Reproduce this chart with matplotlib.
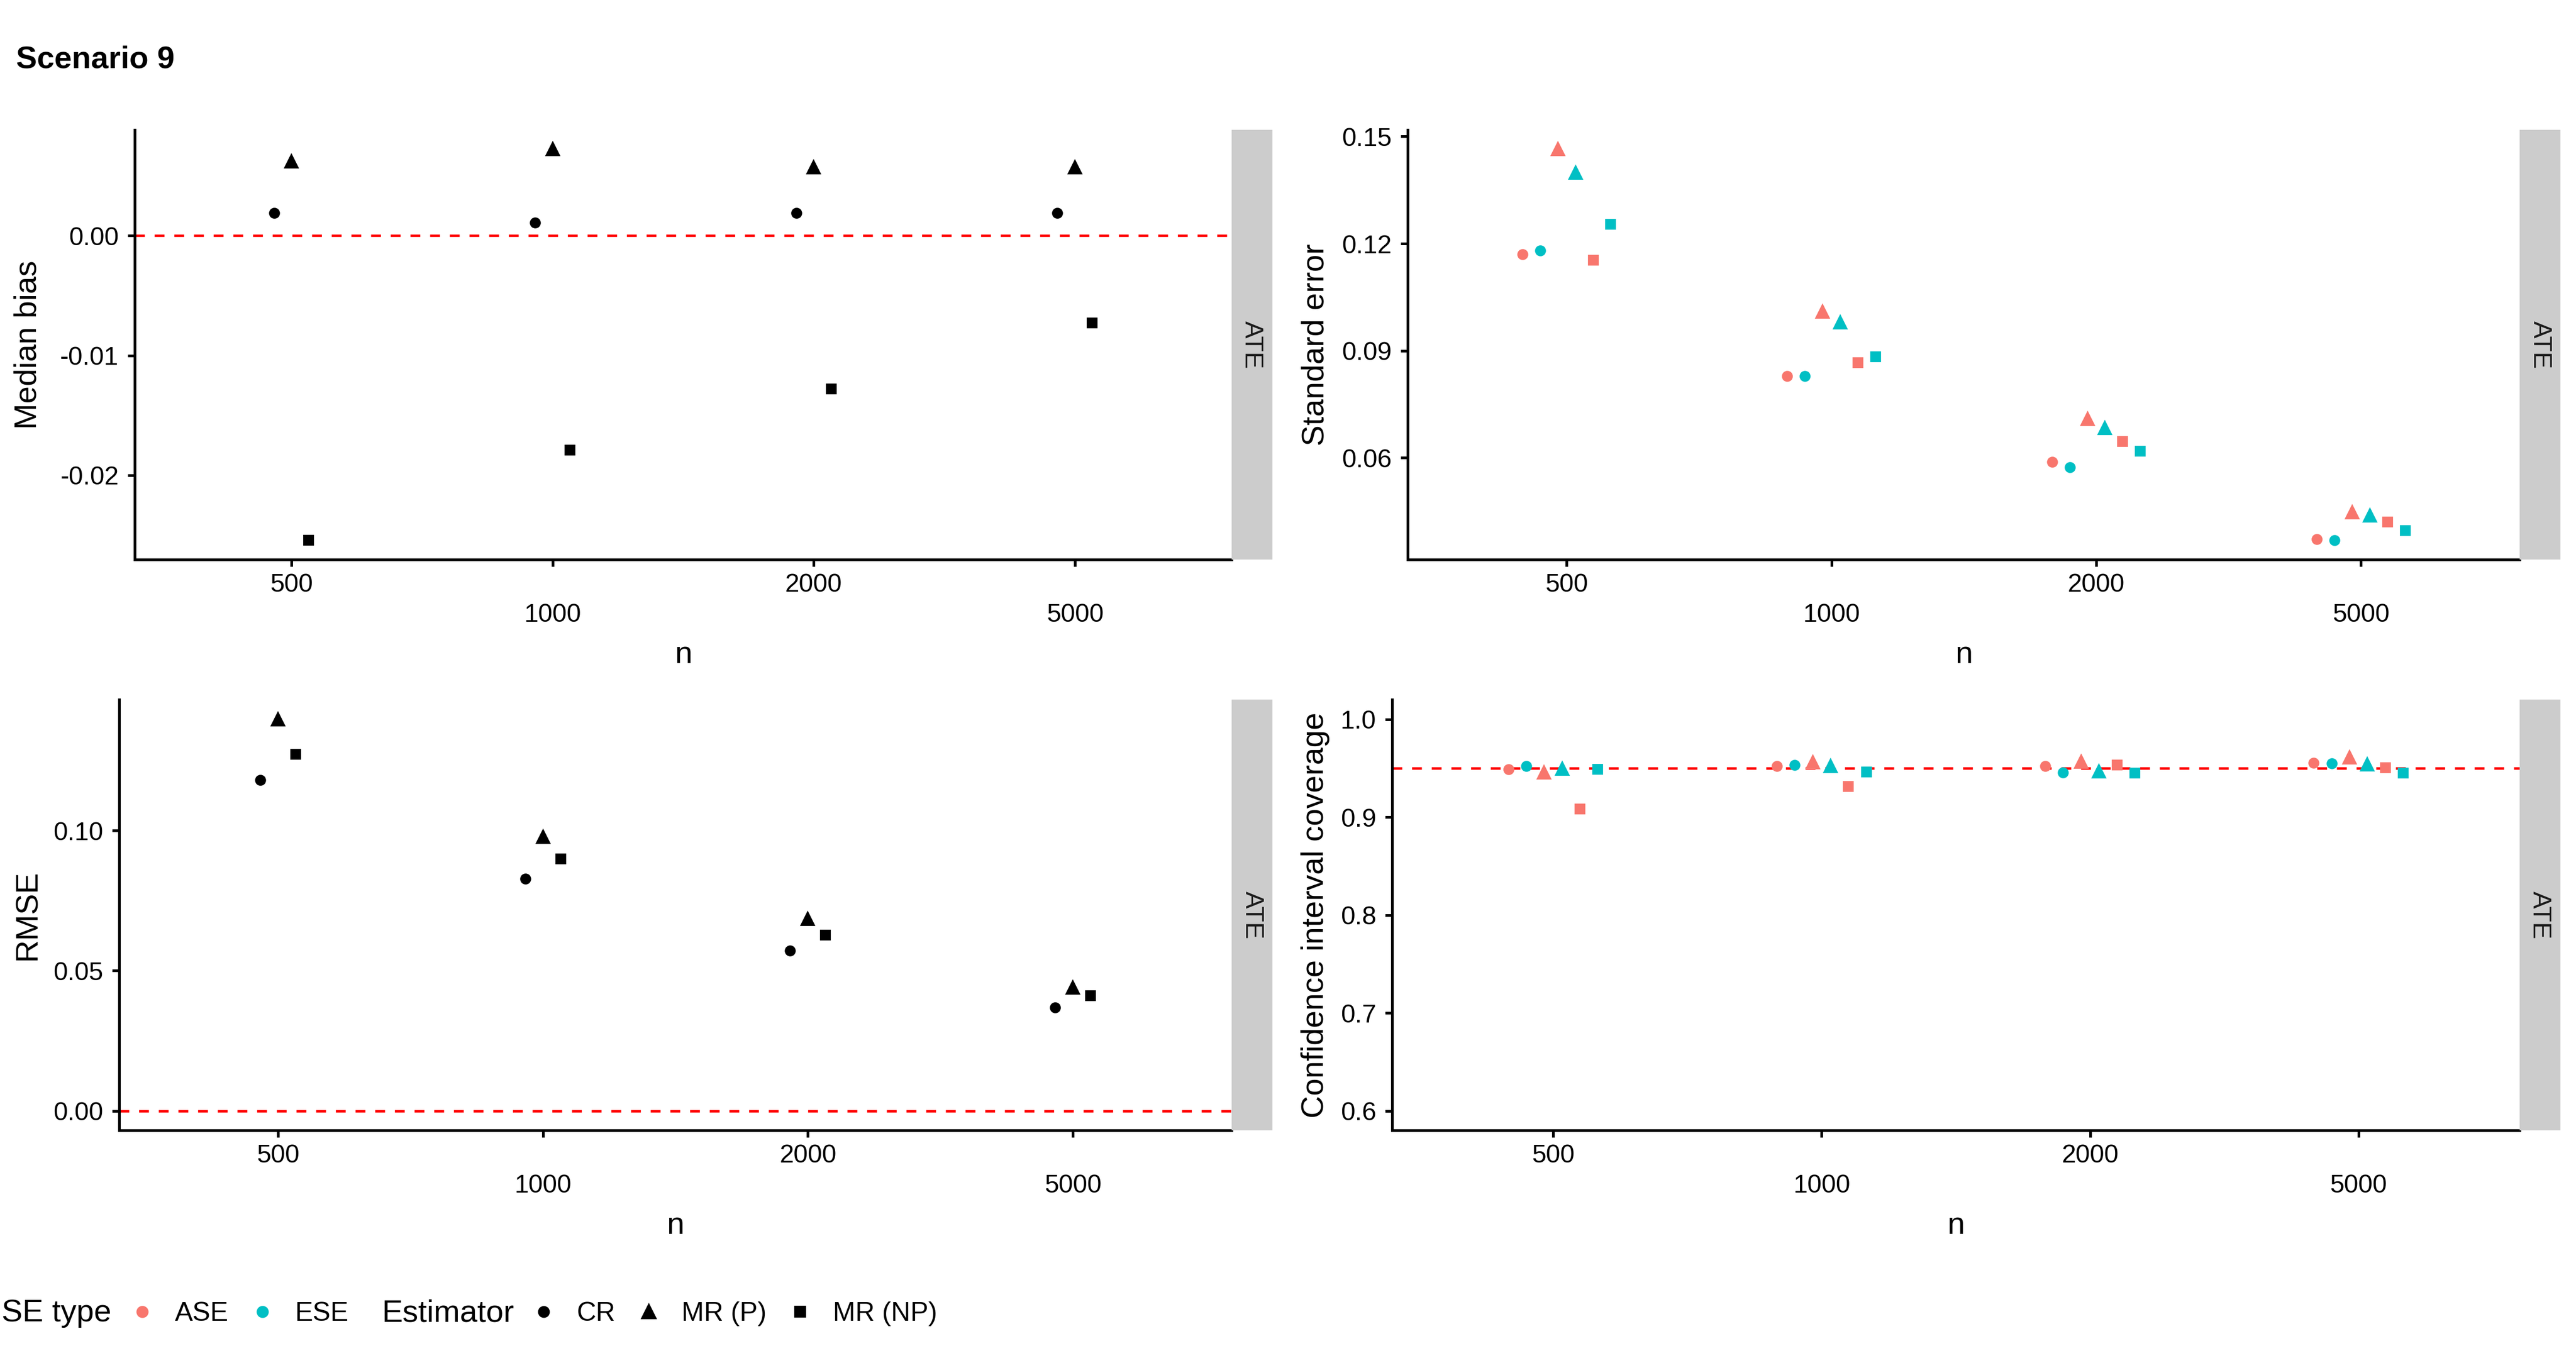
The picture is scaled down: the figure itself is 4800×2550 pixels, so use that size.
import matplotlib
matplotlib.use("Agg")
import matplotlib.pyplot as plt
from matplotlib.lines import Line2D
import numpy as np

plt.rcParams["font.family"] = ["Liberation Sans", "DejaVu Sans"]

# ---- data ----
n_labels = ["500", "1000", "2000", "5000"]
estimators = ["CR", "MR (P)", "MR (NP)"]
se_types = ["ASE", "ESE"]

bias_cr = [0.0019, 0.0011, 0.0019, 0.0019]
bias_mrp = [0.0062, 0.0072, 0.0057, 0.0057]
bias_mrnp = [-0.0254, -0.0179, -0.0128, -0.0073]

rmse_cr = [0.1181, 0.0828, 0.0572, 0.0368]
rmse_mrp = [0.1398, 0.0978, 0.0685, 0.0439]
rmse_mrnp = [0.1273, 0.0899, 0.0628, 0.0411]

se_ase_cr = [0.1170, 0.0829, 0.0588, 0.0373]
se_ese_cr = [0.1180, 0.0829, 0.0573, 0.0370]
se_ase_mrp = [0.1464, 0.1009, 0.0709, 0.0447]
se_ese_mrp = [0.1399, 0.0979, 0.0684, 0.0439]
se_ase_mrnp = [0.1154, 0.0866, 0.0646, 0.0421]
se_ese_mrnp = [0.1254, 0.0883, 0.0619, 0.0396]

cov_ase_cr = [0.9490, 0.9520, 0.9520, 0.9555]
cov_ese_cr = [0.9520, 0.9530, 0.9456, 0.9550]
cov_ase_mrp = [0.9456, 0.9560, 0.9566, 0.9607]
cov_ese_mrp = [0.9496, 0.9520, 0.9467, 0.9540]
cov_ase_mrnp = [0.9085, 0.9310, 0.9530, 0.9507]
cov_ese_mrnp = [0.9489, 0.9460, 0.9448, 0.9448]

bias = {"CR": bias_cr, "MR (P)": bias_mrp, "MR (NP)": bias_mrnp}
rmse = {"CR": rmse_cr, "MR (P)": rmse_mrp, "MR (NP)": rmse_mrnp}
stderr = {("CR", "ASE"): se_ase_cr, ("CR", "ESE"): se_ese_cr,
          ("MR (P)", "ASE"): se_ase_mrp, ("MR (P)", "ESE"): se_ese_mrp,
          ("MR (NP)", "ASE"): se_ase_mrnp, ("MR (NP)", "ESE"): se_ese_mrnp}
coverage = {("CR", "ASE"): cov_ase_cr, ("CR", "ESE"): cov_ese_cr,
            ("MR (P)", "ASE"): cov_ase_mrp, ("MR (P)", "ESE"): cov_ese_mrp,
            ("MR (NP)", "ASE"): cov_ase_mrnp, ("MR (NP)", "ESE"): cov_ese_mrnp}

# ---- styles ----
est_marker = {"CR": "o", "MR (P)": "^", "MR (NP)": "s"}
marker_ms = {"o": 3.9, "^": 5.2, "s": 3.9}
se_color = {"ASE": "#F8766D", "ESE": "#00BFC4"}
step = 0.0667
x_pos = np.arange(1, len(n_labels) + 1)

fig = plt.figure(figsize=(16, 8.5), dpi=300)

top_b, top_h = 0.5910, 0.3141
bot_b, bot_h = 0.1737, 0.3149
ax_tl = fig.add_axes([0.0523, top_b, 0.4258, top_h])
ax_tr = fig.add_axes([0.5465, top_b, 0.4317, top_h])
ax_bl = fig.add_axes([0.04625, bot_b, 0.4319, bot_h])
ax_br = fig.add_axes([0.5404, bot_b, 0.4377, bot_h])


def expand(vals, extra=()):
    allv = list(vals) + list(extra)
    lo, hi = min(allv), max(allv)
    pad = (hi - lo) * 0.05
    return lo - pad, hi + pad


def style_panel(ax, bottom, height, ylabel, ylab_x, yticks, yticklabels, ylim):
    ax.set_xlim(0.4, 4.6)
    ax.set_ylim(*ylim)
    ax.set_xticks(x_pos)
    # staggered (dodged) tick labels: every second one on a second row
    ax.set_xticklabels([lab if i % 2 == 0 else "\n" + lab
                        for i, lab in enumerate(n_labels)])
    for t in ax.get_xticklabels():
        t.set_linespacing(1.3)
    ax.set_yticks(yticks)
    ax.set_yticklabels(yticklabels)
    for s in ["top", "right"]:
        ax.spines[s].set_visible(False)
    for s in ["left", "bottom"]:
        ax.spines[s].set_linewidth(1.2)
    ax.tick_params(length=3.1, width=1.2, labelsize=11.5, colors="black")
    ax.tick_params(axis="y", pad=4)
    ax.tick_params(axis="x", pad=3)
    ax.set_ylabel(ylabel, fontsize=14, va="center")
    ax.yaxis.set_label_coords(ylab_x, 0.5)
    ax.set_xlabel("n", fontsize=14, va="center")
    ax.xaxis.set_label_coords(0.5, -0.222)
    # facet strip on the right
    pos = ax.get_position()
    sax = fig.add_axes([pos.x1, bottom, 0.01583, height])
    sax.set_facecolor("#CCCCCC")
    sax.set_xticks([])
    sax.set_yticks([])
    for s in sax.spines.values():
        s.set_visible(False)
    sax.text(0.5, 0.5, "ATE", rotation=-90, ha="center", va="center",
             fontsize=11.5, color="#1a1a1a", transform=sax.transAxes)


# ---- median bias ----
ax_tl.axhline(0, color="red", lw=1.1, ls=(0, (4, 4)), zorder=1)
for i, est in enumerate(estimators):
    m = est_marker[est]
    ax_tl.plot(x_pos + (i - 1) * step, bias[est], ls="none", marker=m,
               ms=marker_ms[m], color="black", zorder=3)
style_panel(ax_tl, top_b, top_h, "Median bias", -0.0971,
            [-0.02, -0.01, 0.0], ["-0.02", "-0.01", "0.00"],
            expand(sum(bias.values(), []), [0.0]))

# ---- standard error ----
for e, est in enumerate(estimators):
    for s, se in enumerate(se_types):
        m = est_marker[est]
        k = 2 * e + s
        ax_tr.plot(x_pos + (k - 2.5) * step, stderr[(est, se)], ls="none",
                   marker=m, ms=marker_ms[m], color=se_color[se], zorder=3)
style_panel(ax_tr, top_b, top_h, "Standard error", -0.083,
            [0.06, 0.09, 0.12, 0.15], ["0.06", "0.09", "0.12", "0.15"],
            expand(sum(stderr.values(), [])))

# ---- RMSE ----
ax_bl.axhline(0, color="red", lw=1.1, ls=(0, (4, 4)), zorder=1)
for i, est in enumerate(estimators):
    m = est_marker[est]
    ax_bl.plot(x_pos + (i - 1) * step, rmse[est], ls="none", marker=m,
               ms=marker_ms[m], color="black", zorder=3)
style_panel(ax_bl, bot_b, bot_h, "RMSE", -0.082,
            [0.0, 0.05, 0.10], ["0.00", "0.05", "0.10"],
            expand(sum(rmse.values(), []), [0.0]))

# ---- coverage ----
ax_br.axhline(0.95, color="red", lw=1.1, ls=(0, (4, 4)), zorder=1)
for e, est in enumerate(estimators):
    for s, se in enumerate(se_types):
        m = est_marker[est]
        k = 2 * e + s
        ax_br.plot(x_pos + (k - 2.5) * step, coverage[(est, se)], ls="none",
                   marker=m, ms=marker_ms[m], color=se_color[se], zorder=3)
style_panel(ax_br, bot_b, bot_h, "Confidence interval coverage", -0.068,
            [0.6, 0.7, 0.8, 0.9, 1.0], ["0.6", "0.7", "0.8", "0.9", "1.0"],
            expand([0.6, 1.0]))

# ---- title ----
fig.text(0.00625, 0.9502, "Scenario 9", fontsize=14, fontweight="bold",
         va="baseline", ha="left")

# ---- legends ----
leg_kw = dict(loc="center left", frameon=False, fontsize=12, handlelength=0.8,
              handletextpad=0.82, columnspacing=0.86, borderpad=0,
              borderaxespad=0)
se_handles = [Line2D([], [], ls="none", marker="o", ms=4.4, color=se_color[s])
              for s in se_types]
fig.legend(se_handles, se_types, ncol=len(se_types),
           bbox_to_anchor=(0.051, 0.0395), **leg_kw)
est_handles = [Line2D([], [], ls="none", marker=est_marker[e],
                      ms=marker_ms[est_marker[e]] + 0.4, color="black")
               for e in estimators]
fig.legend(est_handles, estimators, ncol=len(estimators),
           bbox_to_anchor=(0.2069, 0.0395), **leg_kw)
fig.text(0.0006, 0.0341, "SE type", fontsize=14, va="baseline", ha="left")
fig.text(0.1481, 0.0341, "Estimator", fontsize=14, va="baseline", ha="left")

fig.savefig("out.png", dpi=300, facecolor="white")
